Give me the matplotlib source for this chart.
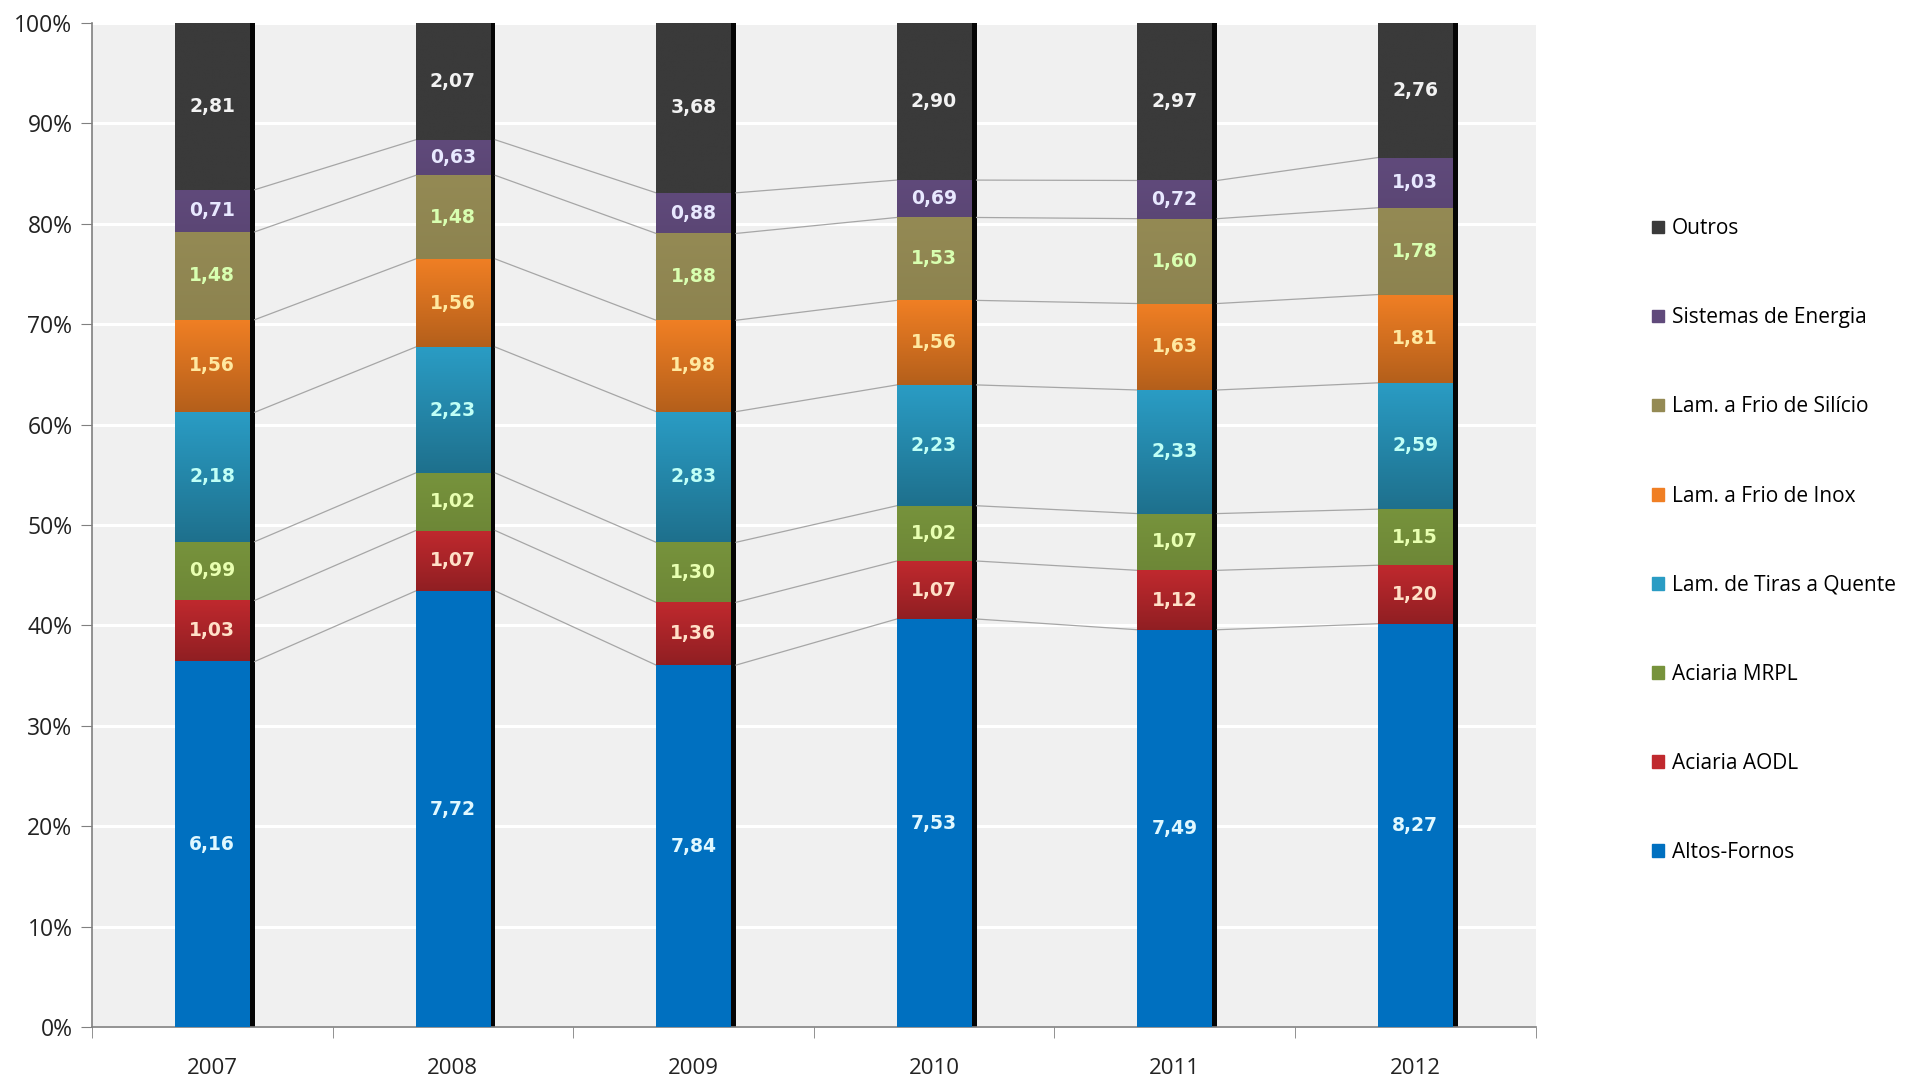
import matplotlib
matplotlib.use("Agg")
import matplotlib.pyplot as plt
import numpy as np
from matplotlib.colors import to_rgb
from matplotlib.patches import Patch

# Data
years = ["2007", "2008", "2009", "2010", "2011", "2012"]
series = ["Altos-Fornos", "Aciaria AODL", "Aciaria MRPL", "Lam. de Tiras a Quente",
          "Lam. a Frio de Inox", "Lam. a Frio de Silício", "Sistemas de Energia", "Outros"]
altos = [6.16, 7.72, 7.84, 7.53, 7.49, 8.27]
aodl = [1.03, 1.07, 1.36, 1.07, 1.12, 1.20]
mrpl = [0.99, 1.02, 1.30, 1.02, 1.07, 1.15]
tiras = [2.18, 2.23, 2.83, 2.23, 2.33, 2.59]
inox = [1.56, 1.56, 1.98, 1.56, 1.63, 1.81]
silicio = [1.48, 1.48, 1.88, 1.53, 1.60, 1.78]
energia = [0.71, 0.63, 0.88, 0.69, 0.72, 1.03]
outros = [2.81, 2.07, 3.68, 2.90, 2.97, 2.76]

colors = ["#0070C0", "#C0292E", "#77933C", "#2A9CC4", "#F07F24", "#948A54", "#604A7B", "#3A3A3A"]
text_colors = ["#E0F8FF", "#FFE0C8", "#E8FFB0", "#C0FFF6", "#FFE8A0", "#D8FFB0", "#E8E8FF", "#F2F2F2"]
# how dark the bottom of each segment gets (gradient)
shade = [1.0, 0.75, 0.92, 0.72, 0.75, 0.95, 0.95, 1.0]

values = np.array([altos, aodl, mrpl, tiras, inox, silicio, energia, outros])
pct = values / values.sum(axis=0) * 100
bottoms = np.vstack([np.zeros(len(years)), np.cumsum(pct, axis=0)[:-1]])

fig = plt.figure(figsize=(19.07, 10.82), dpi=100)
ax = fig.add_axes([0.0482, 0.0508, 0.757, 0.928])
ax.set_facecolor("#F0F0F0")

x = np.arange(len(years))
w = 0.31

# shadow on the right side of each bar
ax.bar(x + w / 2, pct.sum(axis=0), width=0.022, align="edge", color="#050505", zorder=2)

for i, name in enumerate(series):
    bars = ax.bar(x, pct[i], w, bottom=bottoms[i], color=colors[i], zorder=3, label=name)
    base = np.array(to_rgb(colors[i]))
    grad = np.linspace(shade[i], 1.0, 64)[:, None, None] * base[None, None, :]
    for b in bars:
        x0, y0 = b.get_x(), b.get_y()
        im = ax.imshow(grad, extent=[x0, x0 + b.get_width(), y0, y0 + b.get_height()],
                       aspect="auto", zorder=3.5, origin="lower")
        im.set_clip_path(b)
    for j in range(len(years)):
        ax.text(x[j], bottoms[i][j] + pct[i][j] / 2, f"{values[i][j]:.2f}".replace(".", ","),
                ha="center", va="center", color=text_colors[i], fontsize=13.5,
                fontweight="bold", zorder=5)

# series connector lines
tops = bottoms + pct
for i in range(len(series) - 1):
    for j in range(len(years) - 1):
        ax.plot([x[j] + w / 2 + 0.022, x[j + 1] - w / 2], [tops[i][j], tops[i][j + 1]],
                color="#A6A6A6", lw=0.9, zorder=2)

ax.set_xlim(-0.5, len(years) - 0.5)
ax.set_ylim(0, 100)
ax.set_yticks(np.arange(0, 101, 10))
ax.set_yticklabels([f"{v}%" for v in range(0, 101, 10)], fontsize=16.5, family="Open Sans", color="#222222")
ax.yaxis.grid(True, color="white", lw=2.2, zorder=1)
ax.set_axisbelow(True)
ax.set_xticks(x)
ax.set_xticklabels(years, fontsize=16, family="Open Sans", color="#222222")
ax.set_xticks(np.arange(-0.5, len(years)), minor=True)
ax.tick_params(axis="x", which="major", length=0, pad=22)
ax.tick_params(axis="x", which="minor", length=8, color="#808080", direction="out")
ax.tick_params(axis="y", length=8, color="#808080", pad=6)
for s in ["top", "right"]:
    ax.spines[s].set_visible(False)
for s in ["left", "bottom"]:
    ax.spines[s].set_color("#808080")
    ax.spines[s].set_linewidth(1.2)

handles = [Patch(color=colors[i], label=series[i]) for i in range(len(series))][::-1]
fig.legend(handles=handles, loc="upper left", bbox_to_anchor=(0.862, 0.806), frameon=False,
           prop={"family": "Open Sans", "size": 15}, handlelength=0.55, handleheight=0.55,
           handletextpad=0.4, labelspacing=3.27, borderaxespad=0)

fig.savefig("out.png", dpi=100)
